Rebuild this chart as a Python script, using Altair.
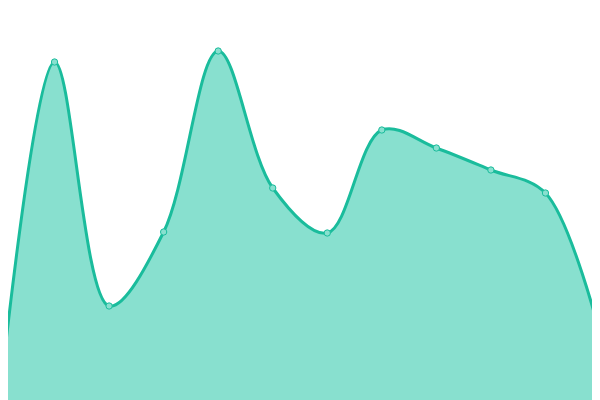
import altair as alt
import pandas as pd

idx = list(range(12))
values = [3, 338, 94, 168, 349, 212, 167, 270, 252, 230, 207, 66]

df = pd.DataFrame({"i": idx, "v": values})

step = 600 / 11
xs = alt.Scale(domain=[8 / step, 592 / step], nice=False, zero=False)
ys = alt.Scale(domain=[0, 392], nice=False)

base = alt.Chart(df).encode(
    x=alt.X("i:Q", scale=xs, axis=None),
    y=alt.Y("v:Q", scale=ys, axis=None),
)

area = base.mark_area(interpolate="catmull-rom", color="#88e0cf", opacity=1)
line = base.mark_line(interpolate="catmull-rom", color="#1abc9c", strokeWidth=3)
pts = base.mark_point(filled=True, size=40, fill="#88e0cf", stroke="#1abc9c", strokeWidth=1, opacity=1)

chart = (area + line + pts).properties(
    width=584, height=392, padding=0,
    autosize=alt.AutoSizeParams(type="none"),
).configure_view(stroke=None)
chart.save("out.html", embed_options={"renderer": "svg", "actions": False})
